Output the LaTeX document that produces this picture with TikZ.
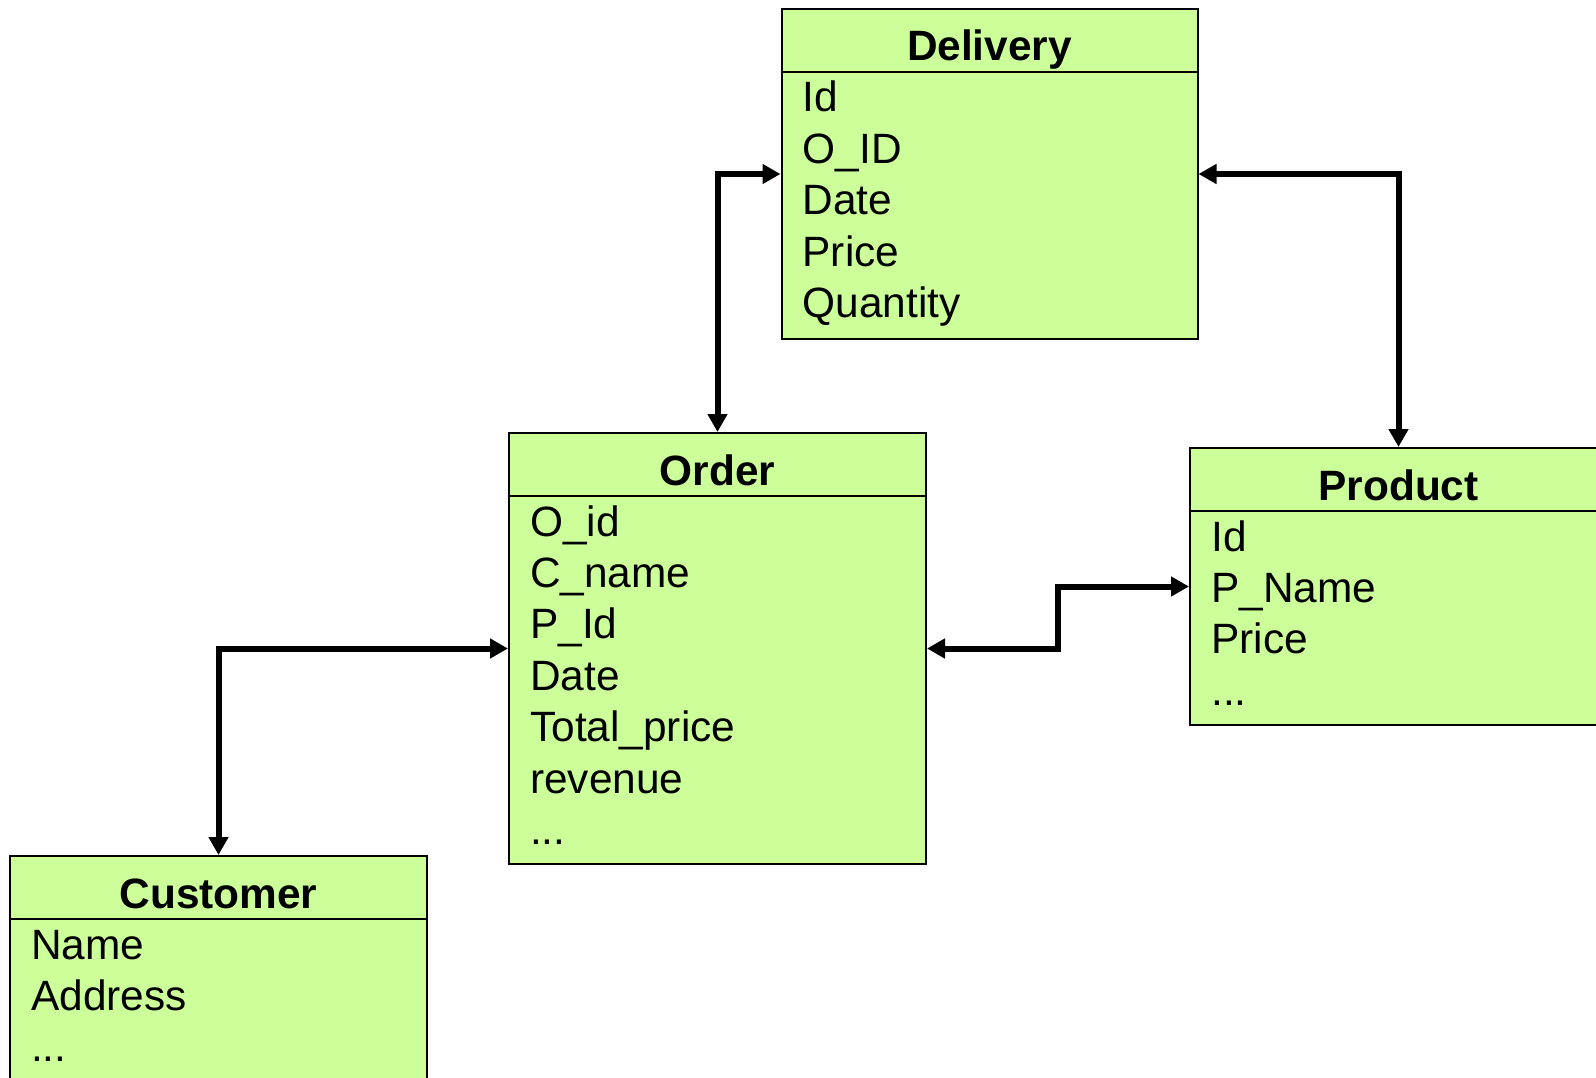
\documentclass[tikz,border=0pt]{standalone}
\usepackage{fontspec}
\usetikzlibrary{arrows.meta,calc}
\newfontfamily\erfont{Liberation Sans}
\newcommand\fieldfont{\erfont\fontsize{42.4pt}{51pt}\selectfont}
\newcommand\titlefont{\erfont\bfseries\fontsize{42.4pt}{51pt}\selectfont}
\newcommand\morefields{...}
\definecolor{entfill}{HTML}{CCFF99}
\tikzset{
  entity/.style={draw=black, line width=2pt, fill=entfill, rectangle,
    inner sep=0pt, anchor=north west},
  headrule/.style={line width=2pt},
  etitle/.style={anchor=base, font=\titlefont, inner sep=0pt},
  efield/.style={anchor=base west, font=\fieldfont, inner sep=0pt},
  conn/.style={line width=6pt,
    {Triangle[length=18pt,width=19pt]}-{Triangle[length=18pt,width=19pt]}}
}
% draws title, header rule and fields of an entity box
\newcommand\entitytext[3]{%
  \node[etitle] (#1-title) at ([yshift=-53pt]#1.north) {#2};
  \draw[headrule] ([yshift=-64pt]#1.north west) -- ([yshift=-64pt]#1.north east);
  \foreach \t [count=\i] in {#3}
    \node[efield] (#1-f\i) at ([xshift=22pt,yshift={-104pt-(\i-1)*51.4pt}]#1.north west) {\t};
}
\begin{document}
\begin{tikzpicture}[x=1pt,y=-1pt]
\clip (0,0) rectangle (1596,1078);
\fill[white] (0,0) rectangle (1596,1078);

% entity boxes
\node[entity, minimum width=416pt, minimum height=330pt] (delivery) at (780.5,8) {};
\node[entity, minimum width=417pt, minimum height=431pt] (order) at (508,432) {};
\node[entity, minimum width=417pt, minimum height=277pt] (product) at (1189,447) {};
\node[entity, minimum width=417pt, minimum height=300pt] (customer) at (9,855) {};

\entitytext{delivery}{Delivery}{Id,O\_ID,Date,Price,Quantity}
\entitytext{order}{Order}{O\_id,C\_name,P\_Id,Date,Total\_price,revenue,\morefields}
\entitytext{product}{Product}{Id,P\_Name,Price,\morefields}
\entitytext{customer}{Customer}{Name,Address,\morefields}

% relationships
\coordinate (jog) at ($(order.east)!0.5!(product.west)$);
\draw[conn] (order.north) |- (delivery.west);
\draw[conn] (delivery.east) -| (product.north);
\draw[conn] (order.east) -| (jog) |- (product.west);
\draw[conn] (customer.north) |- (order.west);
\end{tikzpicture}
\end{document}
